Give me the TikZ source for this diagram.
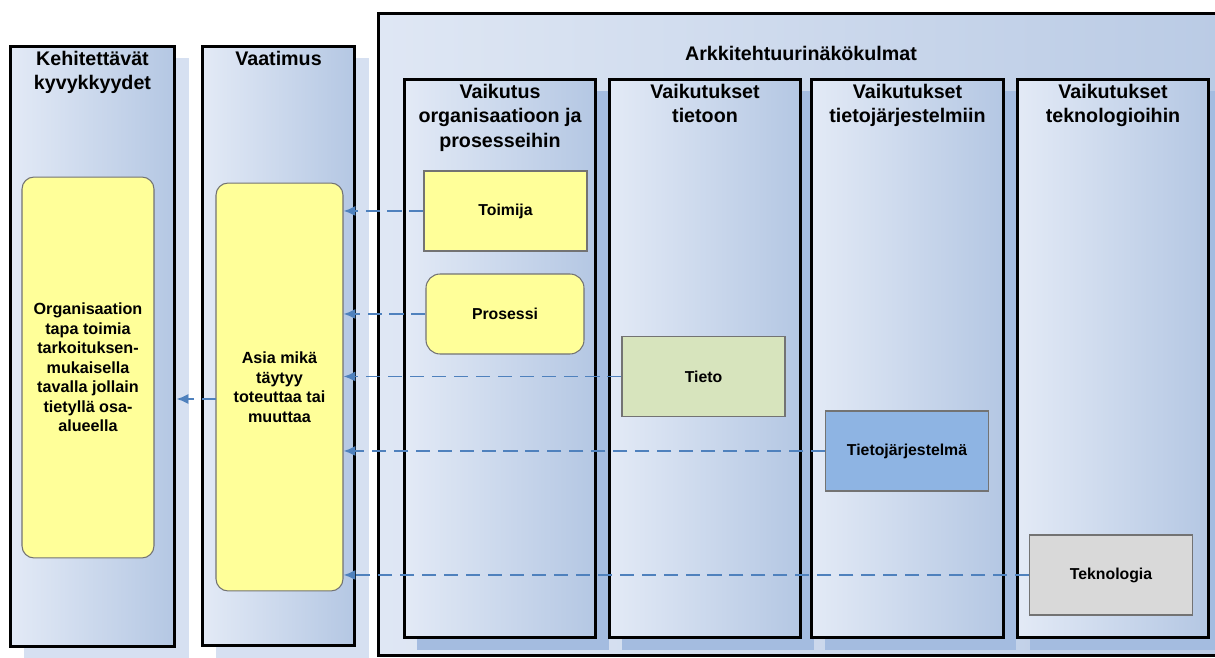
\documentclass[tikz,border=0pt]{standalone}
\usepackage{fontspec}
\setmainfont{Liberation Sans}
\usepackage{xcolor}
\usepackage{tikz}
\usetikzlibrary{shadows,arrows.meta}

\definecolor{colhi}{HTML}{E3EAF6}
\definecolor{collo}{HTML}{B4C7E3}
\definecolor{archhi}{HTML}{DFE7F4}
\definecolor{archlo}{HTML}{BACBE5}
\definecolor{outshade}{HTML}{D6E0F1}
\definecolor{inshade}{HTML}{A4BCE0}
\definecolor{boxyellow}{HTML}{FFFF99}
\definecolor{tietogreen}{HTML}{D7E4BD}
\definecolor{tjblue}{HTML}{8EB4E3}
\definecolor{tekgray}{HTML}{D9D9D9}
\definecolor{linkblue}{HTML}{4F81BD}

\begin{document}
\begin{tikzpicture}[x=0.02cm, y=-0.02cm,
  col/.style={draw=black, line width=1.7pt, left color=colhi, right color=collo, inner sep=0pt},
  outcol/.style={col, drop shadow={shadow xshift=0.28cm, shadow yshift=-0.24cm, fill=outshade, opacity=1}},
  incol/.style={col, drop shadow={shadow xshift=0.26cm, shadow yshift=-0.24cm, fill=inshade, opacity=1}},
  head/.style={anchor=north, align=center, font=\fontsize{11.2}{14.2}\selectfont\bfseries},
  item/.style={draw=black!55, line width=0.6pt, minimum width=3.26cm, minimum height=1.6cm, font=\fontsize{9}{11}\selectfont\bfseries},
  note/.style={item, fill=boxyellow, rounded corners=0.24cm, align=center, font=\fontsize{9.2}{11.1}\selectfont\bfseries},
  link/.style={draw=linkblue, line width=1.1pt, dash pattern=on 8pt off 4.5pt, -{Latex[length=6.8pt, width=5.8pt]}}]

  \useasboundingbox (0,0) rectangle (1215,658);

  \node[col, left color=archhi, right color=archlo, minimum width=16.84cm, minimum height=12.86cm] (arch) at (799,334.5) {};
  \node[head, anchor=center] (archhead) at (801,53) {Arkkitehtuurinäkökulmat};

  \foreach \n/\cx/\txt in {orgcol/500/{Vaikutus\\organisaatioon ja\\prosesseihin},
                           tietocol/705/{Vaikutukset\\tietoon},
                           tjcol/907.5/{Vaikutukset\\tietojärjestelmiin},
                           tekcol/1113/{Vaikutukset\\teknologioihin}} {
    \node[incol, minimum width=3.84cm, minimum height=11.18cm] (\n) at (\cx,358.5) {};
    \node[head] (\n-head) at (\n.north) {\txt};
  }

  \node[item, fill=boxyellow] (toimija) at (505.5,211) {Toimija};
  \node[item, fill=boxyellow, rounded corners=0.28cm, minimum width=3.16cm] (prosessi) at (505,314) {Prosessi};
  \node[item, fill=tietogreen] (tieto) at (703.5,376.5) {Tieto};
  \node[item, fill=tjblue] (tj) at (907,451) {Tietojärjestelmä};
  \node[item, fill=tekgray] (tek) at (1111,575) {Teknologia};

  \node[outcol, minimum width=3.3cm, minimum height=12.02cm] (kehcol) at (92.5,346.5) {};
  \node[head] (kehhead) at (kehcol.north) {Kehitettävät\\kyvykkyydet};
  \node[outcol, minimum width=3.06cm, minimum height=12cm] (vaatcol) at (278.5,346) {};
  \node[head] (vaathead) at (vaatcol.north) {Vaatimus};

  \node[note, minimum width=2.64cm, minimum height=7.62cm] (kehbox) at (88,367.5)
    {Organisaation\\tapa toimia\\tarkoituksen-\\mukaisella\\tavalla jollain\\tietyllä osa-\\alueella};
  \node[note, minimum width=2.54cm, minimum height=8.16cm] (vaatbox) at (279.5,387)
    {Asia mikä\\täytyy\\toteuttaa tai\\muuttaa};

  \foreach \src in {toimija,prosessi,tieto,tj,tek}
    \draw[link] (\src.west) -- (\src.west -| vaatbox.east);
  \coordinate (vaatout) at (216,399);
  \draw[link] (vaatout) -- (vaatout -| kehcol.east);
\end{tikzpicture}
\end{document}
